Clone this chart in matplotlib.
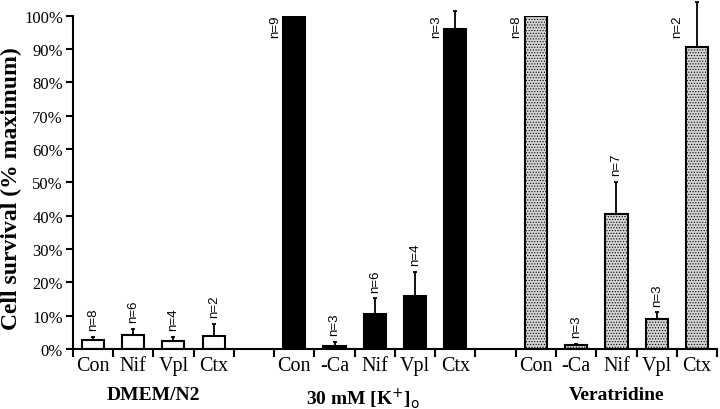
import matplotlib
matplotlib.use('Agg')
import matplotlib.pyplot as plt

# slot positions on the x axis (one slot per bar, empty slots between groups)
dmem_labels = ['Con', 'Nif', 'Vpl', 'Ctx']
dmem_pos = [0, 1, 2, 3]
dmem_vals = [2.8, 4.2, 2.5, 4.0]
dmem_err = [0.9, 1.8, 1.2, 3.5]
dmem_n = ['n=8', 'n=6', 'n=4', 'n=2']

k_labels = ['Con', '-Ca', 'Nif', 'Vpl', 'Ctx']
k_pos = [5, 6, 7, 8, 9]
k_vals = [100, 1.0, 10.5, 15.8, 96.0]
k_err = [0, 1.2, 4.7, 7.4, 5.5]
k_n = ['n=9', 'n=3', 'n=6', 'n=4', 'n=3']

v_labels = ['Con', '-Ca', 'Nif', 'Vpl', 'Ctx']
v_pos = [11, 12, 13, 14, 15]
v_vals = [100, 1.2, 40.5, 9.0, 90.7]
v_err = [0, 0.4, 9.7, 2.0, 13.5]
v_n = ['n=8', 'n=3', 'n=7', 'n=3', 'n=2']

group_names = ['DMEM/N2', '30 mM [K$^{+}$]$_{\\mathrm{o}}$', 'Veratridine']
group_x = [2.0, 7.2, 13.5]

plt.rcParams['hatch.color'] = '#909090'
plt.rcParams['hatch.linewidth'] = 0.5

fig = plt.figure(figsize=(7.2, 4.1), dpi=100)
ax = fig.add_axes([0.101, 0.146, 0.895, 0.813])

w = 0.55
groups = [
    (dmem_pos, dmem_vals, dmem_err, dmem_n, 'white', None),
    (k_pos, k_vals, k_err, k_n, 'black', None),
    (v_pos, v_vals, v_err, v_n, '#d4d4d4', '......'),
]
for pos, vals, err, ns, fc, hatch in groups:
    xs = [p + 0.5 for p in pos]
    ax.bar(xs, vals, width=w, color=fc, edgecolor='black', linewidth=1.5,
           hatch=hatch, zorder=2)
    for x, v, e, n in zip(xs, vals, err, ns):
        if e > 0:
            ax.errorbar(x, v, yerr=[[0], [e]], color='black', elinewidth=1.3,
                        capsize=1.5, capthick=1.3, clip_on=False, zorder=3)
        if v > 80:
            ax.text(x - w / 2 - 0.06, 100.3, n, rotation=90, ha='right', va='top',
                    fontsize=9.5, family='Liberation Sans')
        else:
            ax.text(x, v + e + 2, n, rotation=90, ha='center', va='bottom',
                    fontsize=9.5, family='Liberation Sans')

ax.set_xlim(0, 16)
ax.set_ylim(0, 100)
ax.spines['top'].set_visible(False)
ax.spines['right'].set_visible(False)
for s in ['left', 'bottom']:
    ax.spines[s].set_linewidth(1.5)

ax.set_yticks(range(0, 101, 10))
ax.set_yticklabels([f'{t}%' for t in range(0, 101, 10)], family='Liberation Serif',
                   fontsize=12)
ax.tick_params(axis='y', length=5, width=1.5, pad=2)

# ticks on every slot boundary, labels at slot centers
ax.set_xticks(range(0, 17))
ax.set_xticklabels([])
ax.set_xticks([p + 0.5 for p in dmem_pos + k_pos + v_pos], minor=True)
ax.set_xticklabels(dmem_labels + k_labels + v_labels, minor=True,
                   family='Liberation Serif', fontsize=14.5)
ax.tick_params(axis='x', which='major', length=6, width=1.5)
ax.tick_params(axis='x', which='minor', length=0, pad=5)

fig.text(0.0155, 0.54, 'Cell survival (% maximum)', rotation=90, ha='center',
         va='center', family='Liberation Serif', fontweight='bold', fontsize=17)

for gx, gname in zip(group_x, group_names):
    ax.text(gx, -11.0, gname, ha='center', va='top', transform=ax.transData,
            family='Liberation Serif', fontweight='bold', fontsize=14)

fig.savefig('out.png', dpi=100)
